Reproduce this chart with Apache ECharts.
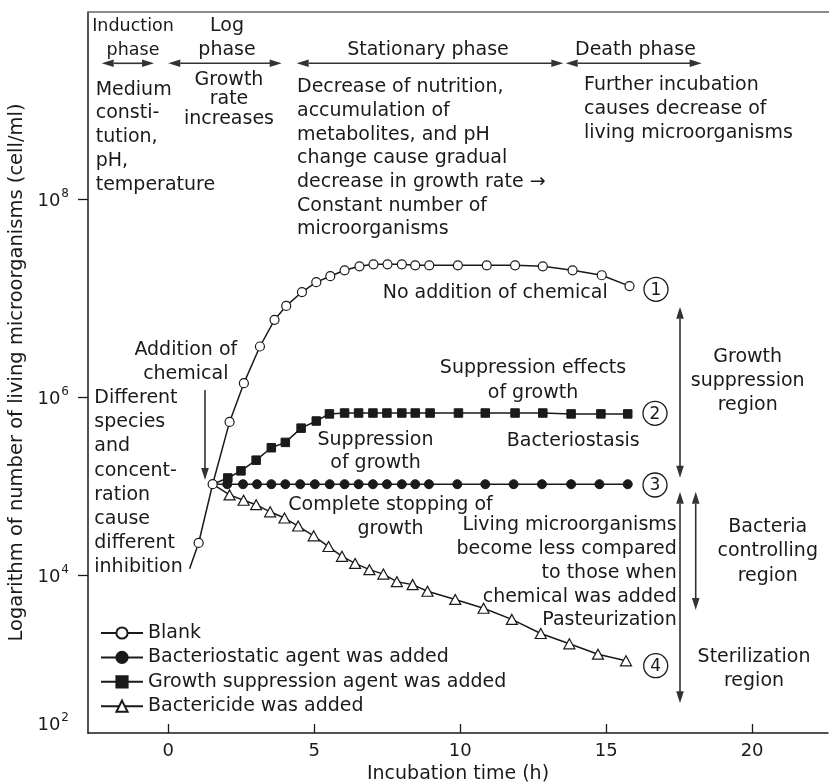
<!DOCTYPE html>
<html><head><meta charset="utf-8">
<script src="https://cdn.jsdelivr.net/npm/echarts@6/dist/echarts.min.js"></script>
<style>html,body{margin:0;padding:0;background:#fff}#c{width:829px;height:782px}</style>
</head><body><div id="c"></div>
<script>
// ---------------- data ----------------
const xTickValues = [0, 5, 10, 15, 20];
const yTickExponents = [2, 4, 6, 8];
const seriesNames = ['Blank', 'Bacteriostatic agent was added', 'Growth suppression agent was added', 'Bactericide was added'];

// Blank (no chemical) – time (h) and log10(cell/ml); first point is the unmarked start of the curve
const blankTime = [0.73, 1.04, 1.52, 2.10, 2.59, 3.14, 3.64, 4.04, 4.58, 5.07, 5.55, 6.04, 6.55, 7.03, 7.51, 8.00, 8.46, 8.94, 9.92, 10.91, 11.88, 12.83, 13.85, 14.85, 15.80];
const blankLog  = [4.07, 4.36, 5.02, 5.72, 6.14, 6.51, 6.78, 6.92, 7.06, 7.16, 7.22, 7.28, 7.32, 7.34, 7.34, 7.34, 7.33, 7.33, 7.33, 7.33, 7.33, 7.32, 7.28, 7.23, 7.12];

// Bacteriostatic agent – first point = addition of chemical (unmarked)
const staticTime = [1.52, 2.02, 2.56, 3.04, 3.53, 4.01, 4.52, 5.02, 5.53, 6.04, 6.52, 7.01, 7.49, 8.00, 8.46, 8.93, 9.90, 10.86, 11.83, 12.80, 13.80, 14.77, 15.74];
const staticLog  = [5.02, 5.02, 5.02, 5.02, 5.02, 5.02, 5.02, 5.02, 5.02, 5.02, 5.02, 5.02, 5.02, 5.02, 5.02, 5.02, 5.02, 5.02, 5.02, 5.02, 5.02, 5.02, 5.02];

// Growth suppression agent
const suppTime = [1.52, 2.04, 2.49, 3.01, 3.53, 4.01, 4.55, 5.07, 5.52, 6.04, 6.52, 7.01, 7.49, 8.00, 8.46, 8.97, 9.94, 10.86, 11.88, 12.83, 13.80, 14.82, 15.74];
const suppLog  = [5.02, 5.09, 5.17, 5.29, 5.43, 5.49, 5.65, 5.73, 5.81, 5.82, 5.82, 5.82, 5.82, 5.82, 5.82, 5.82, 5.82, 5.82, 5.82, 5.82, 5.81, 5.81, 5.81];

// Bactericide
const cideTime = [1.52, 2.10, 2.58, 3.01, 3.49, 3.98, 4.45, 4.98, 5.49, 5.95, 6.40, 6.89, 7.37, 7.83, 8.37, 8.88, 9.83, 10.80, 11.77, 12.76, 13.74, 14.72, 15.68];
const cideLog  = [5.02, 4.90, 4.84, 4.79, 4.71, 4.64, 4.55, 4.44, 4.32, 4.21, 4.13, 4.06, 4.01, 3.91, 3.87, 3.78, 3.67, 3.55, 3.40, 3.21, 3.07, 2.93, 2.84];

// ---------------- axis layout (schematic, non-uniform log scale) ----------------
const Y_ANCHOR_LOG = [2, 4, 6, 8];
const Y_ANCHOR_POS = [10, 158, 336, 534];
function toAxis(lg) {
  const L = Y_ANCHOR_LOG, P = Y_ANCHOR_POS;
  if (lg <= L[0]) return P[0] + (lg - L[0]) * (P[1] - P[0]) / (L[1] - L[0]);
  for (let i = 0; i < L.length - 1; i++) {
    if (lg <= L[i + 1]) return P[i] + (lg - L[i]) * (P[i + 1] - P[i]) / (L[i + 1] - L[i]);
  }
  const n = L.length - 1;
  return P[n] + (lg - L[n]) * (P[n] - P[n - 1]) / (L[n] - L[n - 1]);
}
function mk(times, logs) {
  return times.map((t, i) => i === 0 ? { value: [t, toAxis(logs[i])], symbol: 'none' } : { value: [t, toAxis(logs[i])] });
}

const FONT = '"DejaVu Sans", sans-serif';
const INK = '#1a1a1a';
const F19 = '19px ' + FONT;

// ---------------- annotations ----------------
function txt(text, x, y, align, lh, font) {
  return { type: 'text', z: 50, style: { text, x, y, font: font || F19, fill: INK, align: align, verticalAlign: 'top', lineHeight: lh || 24 } };
}
function arrow(x1, y1, x2, y2, both) {
  const dx = x2 - x1, dy = y2 - y1, len = Math.hypot(dx, dy), ux = dx / len, uy = dy / len;
  const hl = 12, hw = 3.8, col = '#333';
  const sx = both ? x1 + ux * hl : x1, sy = both ? y1 + uy * hl : y1;
  const els = [{ type: 'line', z: 50, shape: { x1: sx, y1: sy, x2: x2 - ux * (hl - 1), y2: y2 - uy * (hl - 1) }, style: { stroke: col, lineWidth: 1.6 } }];
  const head = (tx, ty, a, b) => ({ type: 'polygon', z: 50, shape: { points: [[tx, ty], [tx - a * hl - b * hw, ty - b * hl + a * hw], [tx - a * hl + b * hw, ty - b * hl - a * hw]] }, style: { fill: col } });
  els.push(head(x2, y2, ux, uy));
  if (both) els.push(head(x1, y1, -ux, -uy));
  return els;
}
function circled(n, cx, cy) {
  return [
    { type: 'circle', z: 50, shape: { cx, cy, r: 12 }, style: { fill: 'none', stroke: INK, lineWidth: 1.3 } },
    { type: 'text', z: 51, style: { text: String(n), x: cx, y: cy + 1, font: '17px ' + FONT, fill: INK, align: 'center', verticalAlign: 'middle' } }
  ];
}

const graphics = [
  { type: 'line', z: 40, shape: { x1: 88, y1: 12, x2: 829, y2: 12 }, style: { stroke: '#666', lineWidth: 1.5 } },
  txt('Induction\nphase', 133, 14, 'center', 24, '17.5px ' + FONT),
  txt('Log\nphase', 227, 14, 'center'),
  txt('Stationary phase', 428, 38, 'center'),
  txt('Death phase', 575, 38, 'left'),
  ...arrow(101.7, 63.3, 154, 63.3, true),
  ...arrow(168.3, 63.3, 281.7, 63.3, true),
  ...arrow(296.7, 63.3, 563.3, 63.3, true),
  ...arrow(565.7, 63.3, 701.7, 63.3, true),
  txt('Medium\nconsti-\ntution,\npH,\ntemperature', 95.7, 78, 'left', 23.7),
  txt('Growth\nrate\nincreases', 229, 70, 'center', 19.5),
  txt('Decrease of nutrition,\naccumulation of\nmetabolites, and pH\nchange cause gradual\ndecrease in growth rate \u2192\nConstant number of\nmicroorganisms', 297, 75.5, 'left', 23.7),
  txt('Further incubation\ncauses decrease of\nliving microorganisms', 584, 73, 'left', 24),
  txt('No addition of chemical', 382.7, 281.3, 'left'),
  ...circled(1, 656, 289.3),
  txt('Suppression effects\nof growth', 533, 356, 'center', 24.4),
  ...circled(2, 655, 413.3),
  txt('Bacteriostasis', 506.7, 428.7, 'left'),
  ...circled(3, 655, 485),
  txt('Growth\nsuppression\nregion', 747.7, 345, 'center', 24.2),
  ...arrow(680, 306.7, 680, 477.7, true),
  txt('Addition of\nchemical', 185.8, 338, 'center'),
  ...arrow(205, 390, 205, 480, false),
  txt('Different\nspecies\nand\nconcent-\nration\ncause\ndifferent\ninhibition', 94.3, 386, 'left', 24.2),
  txt('Suppression\nof growth', 375.5, 429, 'center', 22.6),
  txt('Complete stopping of\ngrowth', 390.5, 493, 'center'),
  txt('Living microorganisms\nbecome less compared\nto those when\nchemical was added\nPasteurization', 676.7, 513, 'right', 23.9),
  txt('Bacteria\ncontrolling\nregion', 767.7, 515, 'center', 24.3),
  txt('Sterilization\nregion', 754, 644.7, 'center'),
  ...circled(4, 655.7, 665.7),
  ...arrow(680, 491.7, 680, 703.3, true),
  ...arrow(695.7, 491.7, 695.7, 610, true)
];

const lineStyle = { color: INK, width: 1.5 };
const chart = echarts.init(document.getElementById('c'), null, { renderer: 'canvas' });
chart.setOption({
  animation: false,
  backgroundColor: '#fff',
  textStyle: { fontFamily: FONT, color: INK },
  grid: { left: 88, right: 1, top: 12, bottom: 49, containLabel: false, outerBoundsMode: 'none' },
  xAxis: {
    type: 'value', min: -2.75, max: 22.6,
    name: 'Incubation time (h)', nameLocation: 'middle', nameGap: 27,
    nameTextStyle: { fontSize: 19, fontFamily: FONT, color: INK },
    axisLine: { onZero: false, lineStyle: { color: INK, width: 1.5 } },
    axisTick: { inside: true, length: 9, customValues: xTickValues, lineStyle: { color: INK, width: 1.3 } },
    axisLabel: { customValues: xTickValues, fontSize: 18, fontFamily: FONT, color: INK, margin: 9 },
    splitLine: { show: false }
  },
  yAxis: {
    type: 'value', min: 0, max: 721,
    name: 'Logarithm of number of living microorganisms (cell/ml)', nameLocation: 'middle', nameGap: 58,
    nameTextStyle: { fontSize: 19.5, fontFamily: FONT, color: INK },
    axisLine: { show: true, onZero: false, lineStyle: { color: INK, width: 1.5 } },
    axisTick: { show: true, inside: false, length: 10, customValues: Y_ANCHOR_POS.slice(1), lineStyle: { color: INK, width: 1.3 } },
    axisLabel: {
      customValues: Y_ANCHOR_POS, margin: 19,
      formatter: v => { const i = Y_ANCHOR_POS.indexOf(v); return '{b|10}{s|' + yTickExponents[i] + '}'; },
      rich: {
        b: { fontSize: 18, fontFamily: FONT, color: INK, lineHeight: 22, verticalAlign: 'bottom' },
        s: { fontSize: 12, fontFamily: FONT, color: INK, lineHeight: 22, verticalAlign: 'top', padding: [0, 0, 0, 1] }
      }
    },
    splitLine: { show: false }
  },
  legend: {
    orient: 'vertical', left: 100, top: 623.5, padding: 0, itemWidth: 42, itemHeight: 14, itemGap: 5.4,
    selectedMode: false, data: seriesNames,
    textStyle: { fontSize: 19, fontFamily: FONT, color: INK }
  },
  series: [
    { name: seriesNames[1], type: 'line', z: 2, data: mk(staticTime, staticLog), symbol: 'circle', symbolSize: 9,
      itemStyle: { color: INK, borderColor: INK, borderWidth: 1 }, lineStyle, emphasis: { disabled: true } },
    { name: seriesNames[2], type: 'line', z: 3, data: mk(suppTime, suppLog), symbol: 'rect', symbolSize: 8.5,
      itemStyle: { color: INK, borderColor: INK, borderWidth: 1 }, lineStyle, emphasis: { disabled: true } },
    { name: seriesNames[3], type: 'line', z: 2, data: mk(cideTime, cideLog), symbol: 'triangle', symbolSize: [11, 10],
      itemStyle: { color: '#fff', borderColor: INK, borderWidth: 1.2 }, lineStyle, emphasis: { disabled: true } },
    { name: seriesNames[0], type: 'line', z: 5, data: mk(blankTime, blankLog), symbol: 'circle', symbolSize: 9,
      itemStyle: { color: '#fff', borderColor: INK, borderWidth: 1.2 }, lineStyle, emphasis: { disabled: true } }
  ],
  graphic: graphics
});
</script></body></html>
